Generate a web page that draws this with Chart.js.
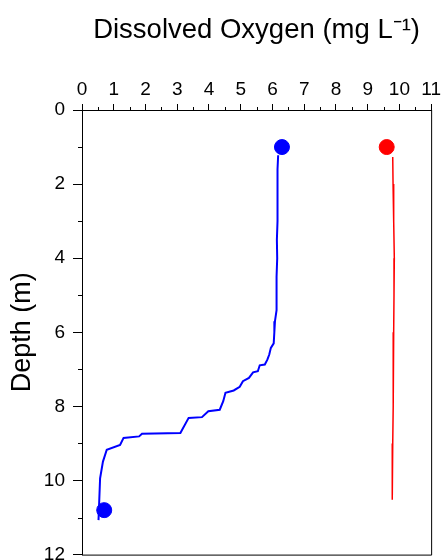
<!DOCTYPE html>
<html>
<head>
<meta charset="utf-8">
<script src="https://cdn.jsdelivr.net/npm/chart.js@4"></script>
<style>
  html, body { margin: 0; padding: 0; background: #fff; overflow: hidden; }
</style>
</head>
<body>
<canvas id="doChart" width="444" height="574"></canvas>
<script>
// profile 1 (blue): depth in m, dissolved oxygen in mg/L
const depthBlue = [1.22, 1.6, 2.0, 2.5, 3.0, 3.5, 4.0, 4.5, 5.0, 5.4, 5.7, 6.0, 6.3, 6.42, 6.6, 6.74, 6.87, 6.89, 7.05, 7.08, 7.23, 7.32, 7.47, 7.57, 7.63, 7.86, 8.09, 8.13, 8.29, 8.31, 8.72, 8.74, 8.81, 8.85, 9.04, 9.17, 9.49, 9.94, 11.07];
const oxygenBlue = [6.18, 6.16, 6.17, 6.15, 6.16, 6.14, 6.15, 6.13, 6.14, 6.12, 6.08, 6.06, 6.04, 5.95, 5.9, 5.84, 5.76, 5.60, 5.54, 5.39, 5.26, 5.07, 4.97, 4.78, 4.52, 4.45, 4.34, 3.98, 3.78, 3.36, 3.10, 1.89, 1.80, 1.31, 1.20, 0.78, 0.66, 0.57, 0.52];

// profile 2 (red)
const depthRed = [1.27, 2.0, 3.0, 4.0, 5.0, 6.0, 7.0, 8.0, 9.0, 10.0, 10.52];
const oxygenRed = [9.79, 9.80, 9.82, 9.84, 9.83, 9.82, 9.81, 9.80, 9.79, 9.78, 9.77];

// marker points
const markerBlueDepth = [1.0, 10.8];
const markerBlueOxygen = [6.3, 0.7];
const markerRedDepth = [1.0];
const markerRedOxygen = [9.6];

// axis ticks
const xMinorTicks = [0.5, 1.5, 2.5, 3.5, 4.5, 5.5, 6.5, 7.5, 8.5, 9.5, 10.5];
const yMinorTicks = [1, 3, 5, 7, 9, 11];

const toPoints = (xs, ys) => xs.map((x, i) => ({ x: x, y: ys[i] }));

// frame on right/bottom + minor ticks
const framePlugin = {
    id: 'frame',
    afterDraw(chart) {
        const ctx = chart.ctx;
        const area = chart.chartArea;
        const xs = chart.scales.x;
        const ys = chart.scales.y;
        ctx.save();
        ctx.strokeStyle = '#000';
        ctx.lineWidth = 1;
        ctx.beginPath();
        ctx.moveTo(area.right + 0.5, area.top);
        ctx.lineTo(area.right + 0.5, area.bottom + 0.5);
        ctx.lineTo(area.left, area.bottom + 0.5);
        xMinorTicks.forEach(v => {
            const px = Math.round(xs.getPixelForValue(v)) + 0.5;
            ctx.moveTo(px, area.top);
            ctx.lineTo(px, area.top - 3);
        });
        yMinorTicks.forEach(v => {
            const py = Math.round(ys.getPixelForValue(v)) + 0.5;
            ctx.moveTo(area.left, py);
            ctx.lineTo(area.left - 4, py);
        });
        ctx.stroke();
        ctx.restore();
    }
};

const ctx = document.getElementById('doChart').getContext('2d');
new Chart(ctx, {
    type: 'scatter',
    data: {
        datasets: [
            {
                data: toPoints(oxygenBlue, depthBlue),
                showLine: true,
                borderColor: '#0000ff',
                borderWidth: 2,
                pointRadius: 0,
                tension: 0
            },
            {
                data: toPoints(oxygenRed, depthRed),
                showLine: true,
                borderColor: '#ff0000',
                borderWidth: 1.5,
                pointRadius: 0,
                tension: 0
            },
            {
                data: toPoints(markerBlueOxygen, markerBlueDepth),
                backgroundColor: '#0000ff',
                borderColor: '#0000ff',
                pointRadius: 7.5
            },
            {
                data: toPoints(markerRedOxygen, markerRedDepth),
                backgroundColor: '#ff0000',
                borderColor: '#ff0000',
                pointRadius: 7.5
            }
        ]
    },
    options: {
        responsive: false,
        animation: false,
        devicePixelRatio: 1,
        layout: { padding: { left: 0, top: 0, right: 3, bottom: 0 } },
        plugins: {
            legend: { display: false },
            tooltip: { enabled: false }
        },
        scales: {
            x: {
                type: 'linear',
                position: 'top',
                min: 0,
                max: 11,
                afterFit: scale => { scale.height = 110; },
                title: {
                    display: true,
                    text: 'Dissolved Oxygen (mg L\u207B\u00B9)',
                    color: '#000',
                    font: { family: 'Liberation Sans, Arial, sans-serif', size: 27.5 },
                    padding: { top: 14, bottom: 0 }
                },
                ticks: {
                    stepSize: 1,
                    color: '#000',
                    padding: 3,
                    maxRotation: 0,
                    font: { family: 'Liberation Sans, Arial, sans-serif', size: 19 }
                },
                grid: { drawOnChartArea: false, tickLength: 6, color: '#000' },
                border: { display: true, color: '#000' }
            },
            y: {
                type: 'linear',
                position: 'left',
                reverse: true,
                min: 0,
                max: 12,
                afterFit: scale => { scale.width = 82; },
                title: {
                    display: true,
                    text: 'Depth (m)',
                    color: '#000',
                    font: { family: 'Liberation Sans, Arial, sans-serif', size: 27 },
                    padding: { top: 6, bottom: 0 }
                },
                ticks: {
                    stepSize: 2,
                    color: '#000',
                    padding: 8,
                    font: { family: 'Liberation Sans, Arial, sans-serif', size: 19 }
                },
                grid: { drawOnChartArea: false, tickLength: 9, color: '#000' },
                border: { display: true, color: '#000' }
            }
        }
    },
    plugins: [framePlugin]
});
</script>
</body>
</html>
